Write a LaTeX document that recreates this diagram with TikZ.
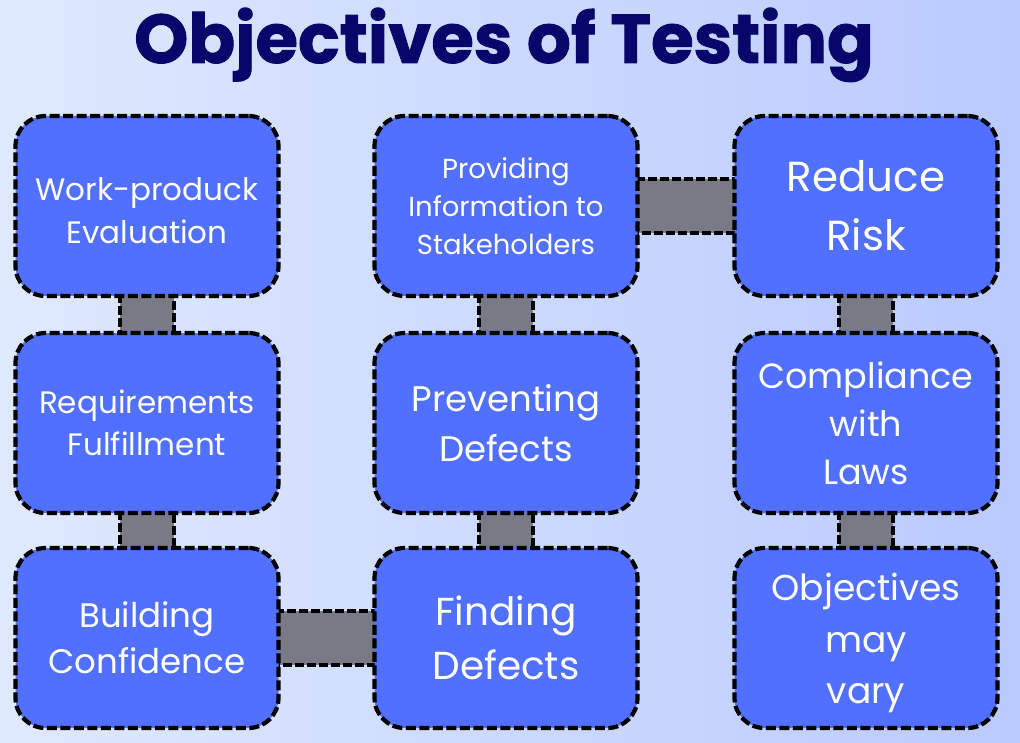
\documentclass[tikz,border=0pt]{standalone}
\usepackage{fontspec}
\setmainfont{Poppins}
\newfontfamily\titlefont{Poppins}[BoldFeatures={FakeBold=1.3}]
\usetikzlibrary{calc}
\pgfdeclarelayer{canvas}
\pgfdeclarelayer{links}
\pgfsetlayers{canvas,links,main}
\definecolor{bgleft}{RGB}{223,233,254}
\definecolor{bgright}{RGB}{186,202,254}
\definecolor{boxblue}{RGB}{81,112,255}
\definecolor{linkgrey}{RGB}{120,123,133}
\definecolor{titlenavy}{RGB}{8,6,106}
\tikzset{
  objbox/.style={draw=black, line width=4.2pt, dash pattern=on 10pt off 3.5pt,
    fill=boxblue, rounded corners=30pt, minimum width=263pt, minimum height=180pt,
    text=white, align=center, inner sep=0pt},
  boxtext/.style={text=white, align=center, inner sep=0pt},
  linkbar/.style={draw=black, line width=3.5pt, dash pattern=on 9pt off 3pt, fill=linkgrey},
}
\newcommand{\fs}[2]{\fontsize{#1}{#2}\selectfont}
\begin{document}
\begin{tikzpicture}[x=1pt,y=-1pt]
  \begin{pgfonlayer}{canvas}
    \shade[left color=bgleft, right color=bgright] (0,0) rectangle (1020,743);
  \end{pgfonlayer}
  \useasboundingbox (0,0) rectangle (1020,743);

  \node[anchor=base, text=titlenavy, font=\titlefont\bfseries\fs{69}{80}] (title) at (504,63) {Objectives of Testing};

  % column 1
  \node[objbox] (wpe) at (147,206) {};
  \node[boxtext, font=\fs{31}{43}] (wpetext) at (147,211) {Work-produck\\Evaluation};
  \node[objbox, font=\fs{31}{42}] (req) at (147,423) {Requirements\\Fulfillment};
  \node[objbox, font=\fs{34}{46}] (bc) at (147,638) {Building\\Confidence};
  % column 2
  \node[objbox, font=\fs{27.5}{38}] (pis) at (506,206) {Providing\\Information to\\Stakeholders};
  \node[objbox, font=\fs{35.5}{50}] (pd) at (506,423) {Preventing\\Defects};
  \node[objbox, font=\fs{39}{54}] (fd) at (506,638) {Finding\\Defects};
  % column 3
  \node[objbox, font=\fs{42}{59}] (rr) at (866,206) {Reduce\\Risk};
  \node[objbox, font=\fs{35}{48}] (cl) at (866,423) {Compliance\\with\\Laws};
  \node[objbox] (omv) at (866,638) {};
  \node[boxtext, font=\fs{36}{51.5}] (omvtext) at (866,643) {Objectives\\may\\vary};

  % grey links between neighbouring boxes, kept behind the boxes
  \begin{pgfonlayer}{links}
    \draw[linkbar] ($(wpe.south)+(-27,-4)$) rectangle ($(req.north)+(27,4)$);
    \draw[linkbar] ($(req.south)+(-27,-4)$) rectangle ($(bc.north)+(27,4)$);
    \draw[linkbar] ($(pis.south)+(-27,-4)$) rectangle ($(pd.north)+(27,4)$);
    \draw[linkbar] ($(pd.south)+(-27,-4)$) rectangle ($(fd.north)+(27,4)$);
    \draw[linkbar] ($(rr.south)+(-27,-4)$) rectangle ($(cl.north)+(27,4)$);
    \draw[linkbar] ($(cl.south)+(-27,-4)$) rectangle ($(omv.north)+(27,4)$);
    \draw[linkbar] ($(bc.east)+(-4,-27)$) rectangle ($(fd.west)+(4,27)$);
    \draw[linkbar] ($(pis.east)+(-4,-27)$) rectangle ($(rr.west)+(4,27)$);
  \end{pgfonlayer}
\end{tikzpicture}
\end{document}
